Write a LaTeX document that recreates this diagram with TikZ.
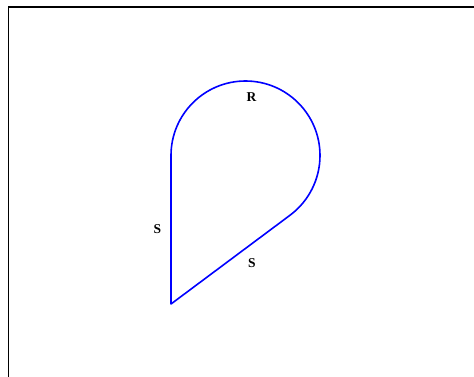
\documentclass[tikz,border=0pt]{standalone}
\usepackage{fontspec}
\setmainfont{Liberation Serif}
\usepackage{tikz}
\usetikzlibrary{calc}

\begin{document}
\begin{tikzpicture}[
  x=1pt, y=1pt,
  frame/.style={draw=black, line width=1.4pt},
  drop/.style={draw=blue, line width=1.6pt, line join=round},
  lbl/.style={font=\fontsize{13.5}{14}\selectfont\bfseries, inner sep=0pt}
]
\useasboundingbox (0,0) rectangle (474,376);
% ---------------- frame
\draw[frame] (8.5,-2) -- (8.5,369) -- (476,369);
% ---------------- teardrop: two tangents of length S, arc of radius R
\coordinate (ctr) at (245.5,220.5);
\coordinate (apex) at (171,72);
\coordinate (lefttop) at (171,220.5);
\draw[drop] (apex) -- (lefttop)
  arc[start angle=180, end angle=-53.3, radius=74.5] -- cycle;
% ---------------- labels
\node[lbl] (rlbl) at (251.5,279) {R};
\node[lbl] (sleft) at (157.5,147) {S};
\node[lbl] (sdiag) at (252,113) {S};
\end{tikzpicture}
\end{document}
